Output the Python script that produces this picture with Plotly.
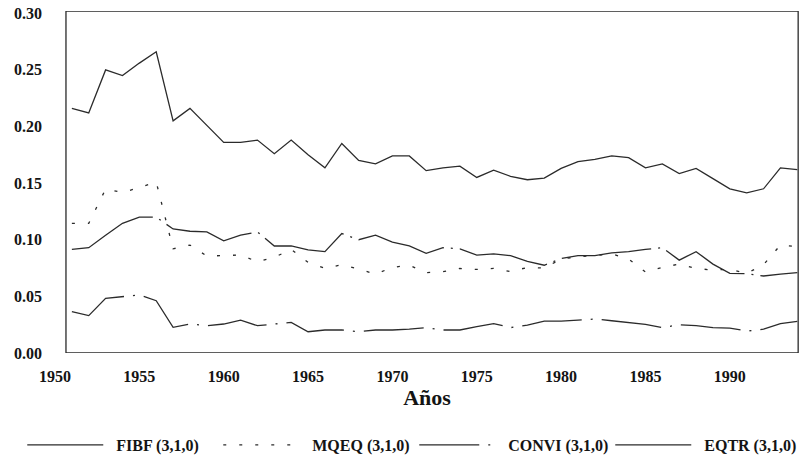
import plotly.graph_objects as go

years = list(range(1951, 1995))

fibf = [0.216, 0.212, 0.250, 0.245, 0.256, 0.266, 0.205, 0.216, 0.201, 0.186,
        0.186, 0.188, 0.176, 0.188, 0.175, 0.1635, 0.185, 0.170, 0.167, 0.174,
        0.174, 0.161, 0.1635, 0.165, 0.155, 0.1615, 0.156, 0.153, 0.1545, 0.163,
        0.169, 0.171, 0.174, 0.1725, 0.1635, 0.167, 0.1585, 0.163, 0.154, 0.145,
        0.1415, 0.145, 0.1635, 0.162]

mqeq = [0.1145, 0.1145, 0.1447, 0.1418, 0.146, 0.151, 0.092, 0.0953, 0.0856, 0.086,
        0.0865, 0.0806, 0.0845, 0.0915, 0.080, 0.0747, 0.078, 0.074, 0.0697, 0.0756,
        0.0776, 0.0709, 0.0718, 0.0747, 0.0738, 0.0747, 0.0718, 0.0756, 0.075, 0.083,
        0.085, 0.086, 0.0875, 0.083, 0.0715, 0.0756, 0.0785, 0.0747, 0.0732, 0.074,
        0.0703, 0.078, 0.0953, 0.094]

eqtr = [0.0915, 0.093, 0.104, 0.1145, 0.120, 0.120, 0.1095, 0.1075, 0.107, 0.099,
        0.104, 0.107, 0.0945, 0.0945, 0.091, 0.0895, 0.1055, 0.100, 0.104, 0.098,
        0.0945, 0.088, 0.093, 0.092, 0.0865, 0.0875, 0.086, 0.081, 0.0775, 0.0835,
        0.086, 0.086, 0.0885, 0.0895, 0.0915, 0.093, 0.082, 0.0895, 0.0785, 0.0703,
        0.070, 0.068, 0.0697, 0.071]

convi = [0.0365, 0.033, 0.0483, 0.0497, 0.0512, 0.0462, 0.0227, 0.0256, 0.0241, 0.0256,
         0.029, 0.0241, 0.0256, 0.027, 0.0188, 0.0203, 0.0203, 0.0188, 0.0203, 0.0203,
         0.021, 0.0224, 0.0203, 0.0203, 0.0232, 0.026, 0.0224, 0.0247, 0.0282, 0.0282,
         0.029, 0.030, 0.0285, 0.027, 0.0253, 0.0224, 0.025, 0.0241, 0.0224, 0.022,
         0.0194, 0.021, 0.026, 0.028]

x_ticks = [1950, 1955, 1960, 1965, 1970, 1975, 1980, 1985, 1990]
y_ticks = [0.00, 0.05, 0.10, 0.15, 0.20, 0.25, 0.30]
y_labels = ["0.00", "0.05", "0.10", "0.15", "0.20", "0.25", "0.30"]

FONT = "Liberation Serif"
INK = "#2b2b2b"
TXT = "#141414"
GAP = "&nbsp;&nbsp;"

fig = go.Figure()
fig.add_trace(go.Scatter(x=years, y=fibf, mode="lines", name=GAP + "<b>FIBF (3,1,0)</b>",
                         line=dict(color=INK, width=1.3)))
fig.add_trace(go.Scatter(x=years, y=mqeq, mode="lines", name=GAP + "<b>MQEQ (3,1,0)</b>",
                         line=dict(color=INK, width=1.3, dash="3px,13px")))
fig.add_trace(go.Scatter(x=years, y=convi, mode="lines", name=GAP + "<b>CONVI (3,1,0)</b>",
                         line=dict(color=INK, width=1.3, dash="60px,9px,2px,9px")))
fig.add_trace(go.Scatter(x=years, y=eqtr, mode="lines", name=GAP + "<b>EQTR (3,1,0)</b>",
                         line=dict(color=INK, width=1.3, dash="90px,7px,2px,7px")))

# plot frame
fig.add_shape(type="rect", xref="x", yref="y", x0=1950.65, x1=1994.05, y0=0, y1=0.302,
              line=dict(color=INK, width=1.3), layer="below")

fig.update_layout(
    width=799, height=462,
    margin=dict(l=55, r=0, t=11, b=109, autoexpand=False),
    paper_bgcolor="white", plot_bgcolor="white",
    font=dict(family=FONT, color=TXT),
    showlegend=True,
    legend=dict(orientation="h", x=-0.044, xanchor="left", y=-0.269, yanchor="middle",
                font=dict(family=FONT, size=16, color=TXT),
                itemwidth=76, entrywidth=105, entrywidthmode="pixels",
                bgcolor="rgba(0,0,0,0)"),
    xaxis=dict(range=[1950, 1994.1], tickvals=x_ticks,
               ticktext=["<b>%d</b>" % v for v in x_ticks],
               tickfont=dict(family=FONT, size=16, color=TXT),
               showgrid=False, zeroline=False, showline=False, ticks="",
               ticklabelstandoff=12,
               title=dict(text="<b>Años</b>", font=dict(family=FONT, size=22, color=TXT),
                          standoff=4)),
    yaxis=dict(range=[0, 0.302], tickvals=y_ticks,
               ticktext=["<b>%s</b>" % t for t in y_labels],
               tickfont=dict(family=FONT, size=16, color=TXT),
               showgrid=False, zeroline=False, showline=False, ticks="",
               ticklabelstandoff=12),
)

fig.write_html("out.html")
